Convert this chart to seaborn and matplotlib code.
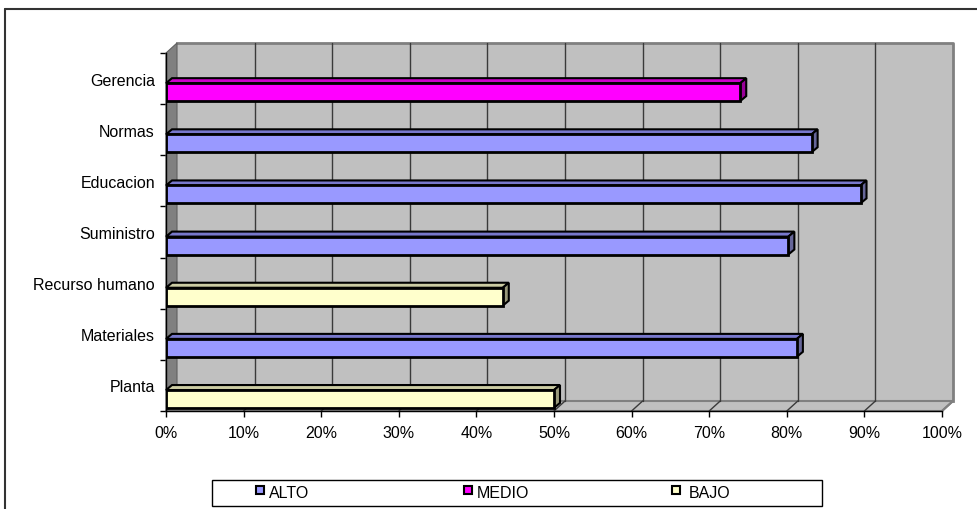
import matplotlib
matplotlib.use("Agg")
import matplotlib.pyplot as plt
from matplotlib.patches import Polygon, Rectangle
from matplotlib.lines import Line2D
import numpy as np
import pandas as pd
import seaborn as sns

# ---- data ----
categories = ["Gerencia", "Normas", "Educacion", "Suministro",
              "Recurso humano", "Materiales", "Planta"]
values = [0.74, 0.832, 0.895, 0.802, 0.434, 0.813, 0.50]
levels = ["MEDIO", "ALTO", "ALTO", "ALTO", "BAJO", "ALTO", "BAJO"]
level_order = ["ALTO", "MEDIO", "BAJO"]
x_ticks = [0.0, 0.1, 0.2, 0.3, 0.4, 0.5, 0.6, 0.7, 0.8, 0.9, 1.0]
x_tick_labels = ["0%", "10%", "20%", "30%", "40%", "50%", "60%", "70%", "80%", "90%", "100%"]

front_colors = {"ALTO": "#9999FF", "MEDIO": "#FF00FF", "BAJO": "#FFFFCC"}
top_colors = {"ALTO": "#7878CC", "MEDIO": "#CC00CC", "BAJO": "#CCCCA3"}
side_colors = {"ALTO": "#666699", "MEDIO": "#990099", "BAJO": "#99997A"}

df = pd.DataFrame({"categoria": categories, "valor": values, "nivel": levels})

sns.set_theme(style="white")
plt.rcParams["font.family"] = ["Liberation Sans", "DejaVu Sans"]

W, H, DPI = 977, 510, 100
FS = 11.5
fig = plt.figure(figsize=(W / DPI, H / DPI), dpi=DPI)
fig.patch.set_facecolor("white")

# front plane of the plot (pixels)
left_px, right_px, top_px, bot_px = 166, 942, 54, 412
ax = fig.add_axes([left_px / W, (H - bot_px) / H,
                   (right_px - left_px) / W, (bot_px - top_px) / H])
ax.set_facecolor("none")

bar_h = 0.35
sns.barplot(data=df, y="categoria", x="valor", hue="nivel", hue_order=level_order,
            palette=front_colors, saturation=1, dodge=False, orient="h", width=bar_h,
            edgecolor="black", linewidth=2, ax=ax, legend=False, zorder=5)

n = len(categories)
y_top, y_bot = -0.765, n - 0.765
ax.set_xlim(0, 1)
ax.set_ylim(y_bot, y_top)

# pixel -> data unit conversion
ux = 1.0 / (right_px - left_px)
uy = (y_bot - y_top) / (bot_px - top_px)

# depth of the walls and of the bars
wdx, wdy = 11 * ux, -10 * uy
bdx, bdy = 6 * ux, -5 * uy

# back wall
ax.add_patch(Polygon([(wdx, y_bot + wdy), (1 + wdx, y_bot + wdy),
                      (1 + wdx, y_top + wdy), (wdx, y_top + wdy)],
                     closed=True, fc="#C0C0C0", ec="none", zorder=0, clip_on=False))
ax.plot([wdx, 1 + wdx, 1 + wdx], [y_top + wdy, y_top + wdy, y_bot + wdy],
        color="#808080", lw=2, zorder=1, clip_on=False, solid_capstyle="projecting")
# floor
ax.add_patch(Polygon([(0, y_bot), (1, y_bot), (1 + wdx, y_bot + wdy), (wdx, y_bot + wdy)],
                     closed=True, fc="#C0C0C0", ec="#808080", lw=1.5, zorder=1, clip_on=False))
# left side wall
ax.add_patch(Polygon([(0, y_bot), (0, y_top), (wdx, y_top + wdy), (wdx, y_bot + wdy)],
                     closed=True, fc="#808080", ec="#606060", lw=0.8, zorder=1, clip_on=False))

# gridlines on the back wall and the floor
for v in x_ticks[1:-1]:
    ax.plot([v + wdx, v + wdx], [y_bot + wdy, y_top + wdy], color="#3A3A3A", lw=1,
            zorder=2, clip_on=False)
    ax.plot([v, v + wdx], [y_bot, y_bot + wdy], color="#3A3A3A", lw=1,
            zorder=2, clip_on=False)
ax.plot([1, 1 + wdx], [y_bot, y_bot + wdy], color="#808080", lw=1.5, zorder=2, clip_on=False)

# 3D top and side faces of the bars
for i, (v, lev) in enumerate(zip(values, levels)):
    yt, yb = i - bar_h / 2, i + bar_h / 2
    ax.add_patch(Polygon([(0, yt), (v, yt), (v + bdx, yt + bdy), (bdx, yt + bdy)],
                         closed=True, fc=top_colors[lev], ec="black", lw=1.5,
                         zorder=4, clip_on=False, joinstyle="miter"))
    ax.add_patch(Polygon([(v, yt), (v, yb), (v + bdx, yb + bdy), (v + bdx, yt + bdy)],
                         closed=True, fc=side_colors[lev], ec="black", lw=1.5,
                         zorder=4, clip_on=False, joinstyle="miter"))

# axes, ticks and labels
for s in ["top", "right"]:
    ax.spines[s].set_visible(False)
for s in ["left", "bottom"]:
    ax.spines[s].set_color("black")
    ax.spines[s].set_linewidth(1)
    ax.spines[s].set_zorder(6)

ax.set_xticks(x_ticks)
ax.set_xticklabels(x_tick_labels, fontsize=FS, color="black")
ax.tick_params(axis="x", direction="out", length=4, width=1, color="black", pad=6,
               bottom=True)

ax.set_yticks([y_top + k for k in range(n + 1)])
ax.set_yticklabels([])
ax.set_yticks([k - 0.265 for k in range(n)], minor=True)
ax.set_yticklabels(categories, minor=True, fontsize=FS, color="black")
ax.tick_params(axis="y", which="major", direction="out", length=4, width=1,
               color="black", left=True)
ax.tick_params(axis="y", which="minor", length=0, pad=8, left=True)
ax.set_xlabel("")
ax.set_ylabel("")

# outer chart frame
fig.add_artist(Line2D([5 / W, 5 / W], [0, (H - 10) / H], color="#333333", lw=1.5,
                      transform=fig.transFigure))
fig.add_artist(Line2D([5 / W, 1], [(H - 10) / H, (H - 10) / H], color="#333333", lw=1.5,
                      transform=fig.transFigure))

# legend box with its entries
fig.add_artist(Rectangle((212 / W, (H - 507) / H), 610 / W, 26 / H, fill=False,
                         ec="black", lw=1, transform=fig.transFigure))
legend_x = [256, 464, 672]
for xp, lev in zip(legend_x, level_order):
    fig.add_artist(Rectangle((xp / W, (H - 495) / H), 8 / W, 8 / H, fc=front_colors[lev],
                             ec="black", lw=1.5, transform=fig.transFigure))
    fig.text((xp + 13 + (4 if lev == "BAJO" else 0)) / W, (H - 494) / H, lev,
             fontsize=FS, va="center", ha="left", color="black")

fig.savefig("out.png", dpi=DPI)
